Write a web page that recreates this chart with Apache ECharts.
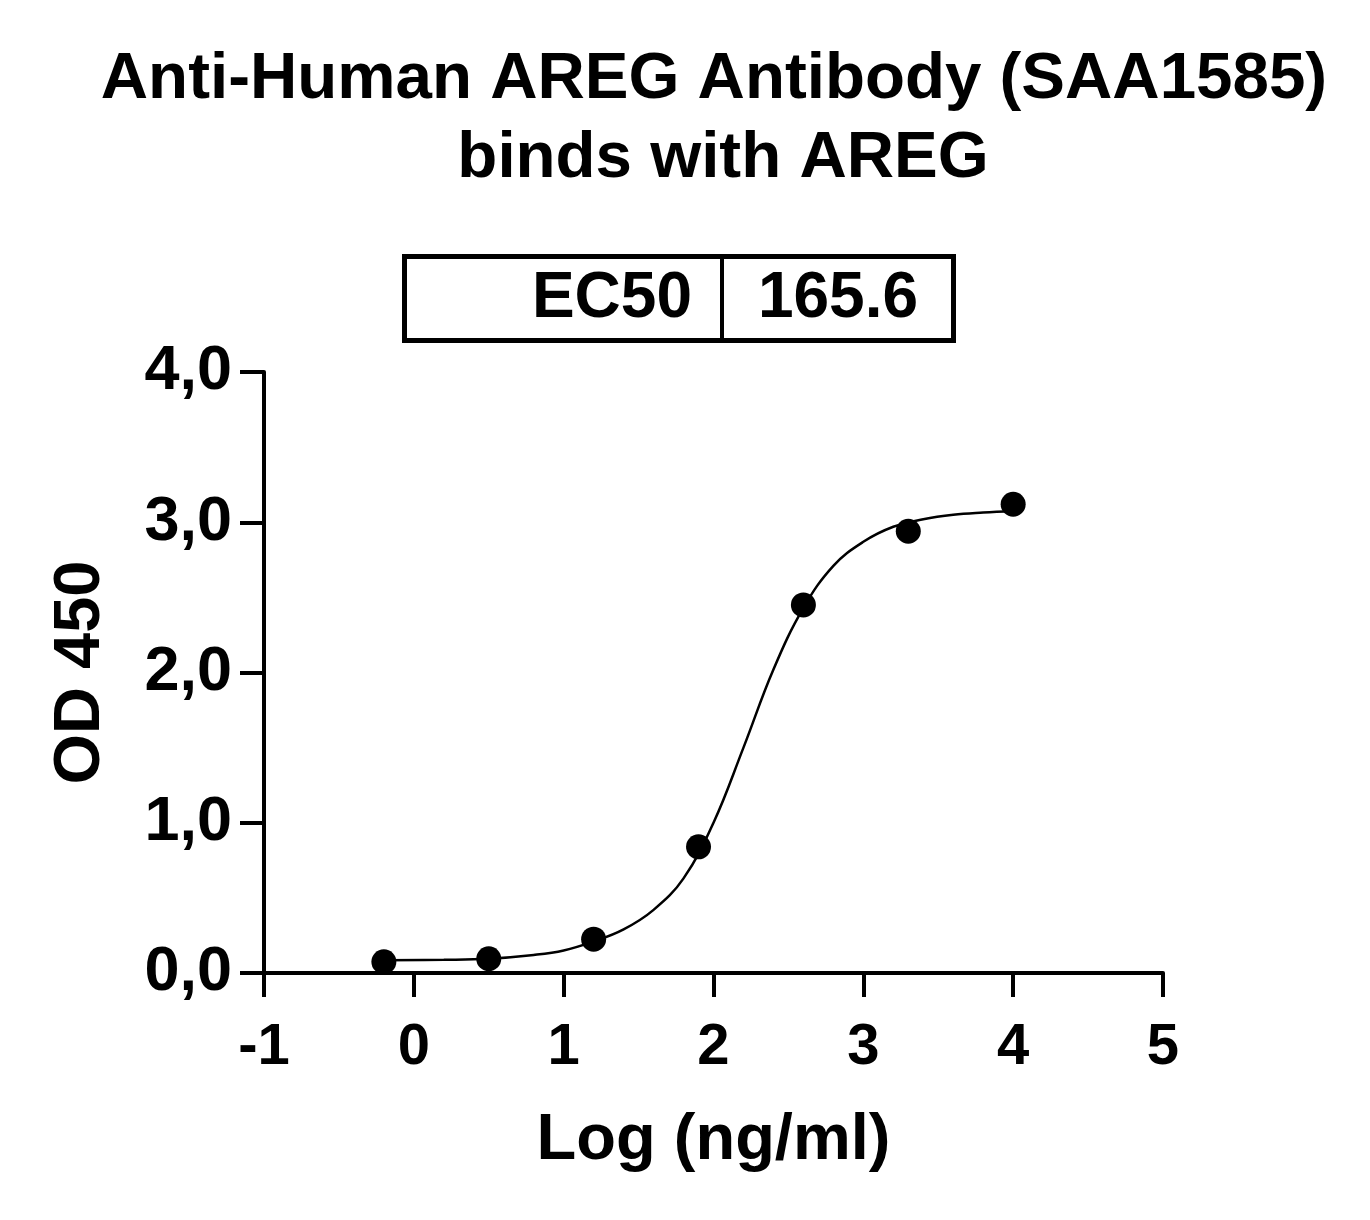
<!DOCTYPE html>
<html>
<head>
<meta charset="utf-8">
<script src="https://cdn.jsdelivr.net/npm/echarts@6/dist/echarts.min.js"></script>
<style>
html,body{margin:0;padding:0;background:#fff;}
#chart{width:1370px;height:1220px;}
</style>
</head>
<body>
<div id="chart"></div>
<script>
// Measured points (log concentration, OD450)
const logConc = [-0.2, 0.5, 1.2, 1.9, 2.6, 3.3, 4.0];
const od450 = [0.075, 0.095, 0.225, 0.84, 2.45, 2.94, 3.12];

// Fitted curve
const curveX = [-0.2, 0.2, 0.5, 0.8, 1.0, 1.2, 1.4, 1.6, 1.8, 2.0, 2.2, 2.4, 2.6, 2.8, 3.0, 3.2, 3.4, 3.6, 3.8, 4.0];
const curveY = [0.085, 0.088, 0.095, 0.12, 0.15, 0.21, 0.29, 0.42, 0.63, 1.0, 1.5, 2.02, 2.43, 2.71, 2.87, 2.97, 3.02, 3.05, 3.065, 3.075];

const titleLines = ['Anti-Human AREG Antibody (SAA1585)', 'binds with AREG'];
const ec50Label = 'EC50';
const ec50Value = '165.6';
const xTicks = [-1, 0, 1, 2, 3, 4, 5];
const yTicks = [0, 1, 2, 3, 4];

const FONT = '"Liberation Sans", Arial, sans-serif';
const chart = echarts.init(document.getElementById('chart'), null, {renderer: 'canvas'});

const pts = logConc.map((x, i) => [x, od450[i]]);
const curve = curveX.map((x, i) => [x, curveY[i]]);

chart.setOption({
  backgroundColor: '#ffffff',
  animation: false,
  title: [
    {
      text: titleLines[0],
      left: 709, top: 42, textAlign: 'center',
      textStyle: {fontFamily: FONT, fontWeight: 'bold', fontSize: 65.5, color: '#000'}
    },
    {
      text: titleLines[1],
      left: 718, top: 121, textAlign: 'center',
      textStyle: {fontFamily: FONT, fontWeight: 'bold', fontSize: 65.5, color: '#000'}
    }
  ],
  grid: {left: 264, right: 207, top: 372, bottom: 247, containLabel: false},
  xAxis: {
    type: 'value',
    min: xTicks[0], max: xTicks[xTicks.length - 1], interval: 1,
    splitLine: {show: false},
    axisLine: {show: true, onZero: false, lineStyle: {color: '#000', width: 4}},
    axisTick: {show: true, inside: false, length: 24, lineStyle: {color: '#000', width: 4}},
    axisLabel: {margin: 46, color: '#000', fontFamily: FONT, fontWeight: 'bold', fontSize: 58},
    name: 'Log (ng/ml)',
    nameLocation: 'middle',
    nameGap: 136,
    nameTextStyle: {fontFamily: FONT, fontWeight: 'bold', fontSize: 65, color: '#000'}
  },
  yAxis: {
    type: 'value',
    min: yTicks[0], max: yTicks[yTicks.length - 1], interval: 1,
    splitLine: {show: false},
    axisLine: {show: true, onZero: false, lineStyle: {color: '#000', width: 4}},
    axisTick: {show: true, inside: false, length: 24, lineStyle: {color: '#000', width: 4}},
    axisLabel: {
      margin: 32, color: '#000', fontFamily: FONT, fontWeight: 'bold', fontSize: 63,
      padding: [10, 0, 0, 0],
      formatter: v => v.toFixed(1).replace('.', ',')
    },
    name: 'OD 450',
    nameLocation: 'middle',
    nameGap: 150,
    nameRotate: 90,
    nameTextStyle: {fontFamily: FONT, fontWeight: 'bold', fontSize: 65, color: '#000'}
  },
  series: [
    {
      type: 'line',
      data: curve,
      smooth: 0.4,
      showSymbol: false,
      lineStyle: {color: '#000', width: 2.5},
      z: 2
    },
    {
      type: 'scatter',
      data: pts,
      symbol: 'circle',
      symbolSize: 25,
      itemStyle: {color: '#000', opacity: 1},
      z: 3
    }
  ],
  graphic: [
    {
      type: 'group',
      left: 402, top: 254,
      children: [
        {type: 'rect', shape: {x: 2.5, y: 2.5, width: 549, height: 84}, style: {fill: '#fff', stroke: '#000', lineWidth: 5}},
        {type: 'line', shape: {x1: 320, y1: 2.5, x2: 320, y2: 86.5}, style: {stroke: '#000', lineWidth: 4}},
        {type: 'text', x: 290, y: 45, style: {text: ec50Label, fontFamily: FONT, fontWeight: 'bold', fontSize: 64, fill: '#000', align: 'right', verticalAlign: 'middle'}},
        {type: 'text', x: 436, y: 45, style: {text: ec50Value, fontFamily: FONT, fontWeight: 'bold', fontSize: 64, fill: '#000', align: 'center', verticalAlign: 'middle'}}
      ]
    }
  ]
});
</script>
</body>
</html>
